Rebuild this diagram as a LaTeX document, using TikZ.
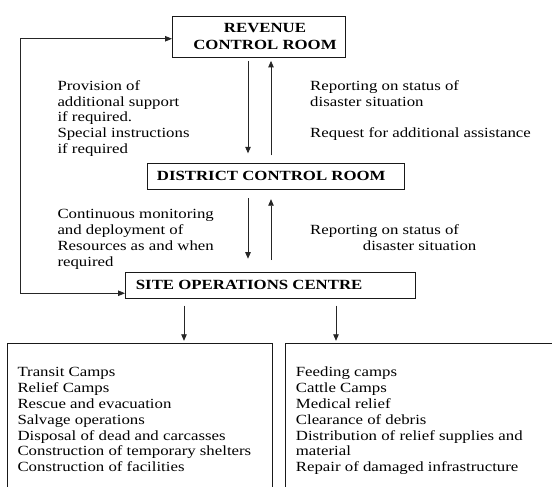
\documentclass[tikz,border=0pt]{standalone}
\usepackage{fontspec}
\setmainfont{Liberation Serif}[FakeStretch=1.2]
\usetikzlibrary{arrows.meta,calc}

\begin{document}
\begin{tikzpicture}[x=1pt,y=-1pt,
  box/.style={draw=black!90, line width=0.9pt, inner sep=0pt, anchor=north west},
  % multi-line labels are placed by the baseline of their last line
  lbl/.style={inner sep=0pt, anchor=base west, align=left, text=black,
              font=\fontsize{14}{15.6}\selectfont},
  head/.style={inner sep=0pt, anchor=base west, text=black,
               font=\fontsize{14}{16.6}\selectfont\bfseries},
  arr/.style={draw=black!85, line width=0.8pt, -{Triangle[length=6.5pt,width=5.5pt]}},
  fbarr/.style={draw=black!85, line width=0.8pt,
                {Triangle[length=7pt,width=5.5pt]}-{Triangle[length=7pt,width=5.5pt]}},
]
\useasboundingbox (0,0) rectangle (552,487);
\clip (0,0) rectangle (552,487);

% control rooms and operations centre
\node[box, minimum width=173pt, minimum height=41pt]   (rev)  at (172,16)    {};
\node[box, minimum width=257pt, minimum height=26pt]   (dist) at (146.5,163.3) {};
\node[box, minimum width=290pt, minimum height=26.6pt] (site) at (125,271.7) {};
% relief activity panels
\node[box, minimum width=265.3pt, minimum height=160pt] (relief1) at (6.7,343.3) {};
\node[box, minimum width=280pt, minimum height=160pt]   (relief2) at (285,343.3) {};

% box titles
\node[head, anchor=base] (revt1) at (265,32.7) {REVENUE};
\node[head, anchor=base] (revt2) at (265,49.3) {CONTROL ROOM};
\node[head] (distt) at (156.7,180) {DISTRICT CONTROL ROOM};
\node[head] (sitet) at (135.7,289.3) {SITE OPERATIONS CENTRE};

% flow annotations
\node[lbl] (down1) at (57.3,153.1) {Provision of\\additional support\\if required.\\Special instructions\\if required};
\node[lbl] (up1) at (310,137.5) {Reporting on status of\\disaster situation\\[15.6pt]Request for additional assistance};
\node[lbl, font=\fontsize{14}{16}\selectfont] (down2) at (57.3,266.5)
  {Continuous monitoring\\and deployment of\\Resources as and when\\required};
\node[lbl, font=\fontsize{14}{16}\selectfont] (up2) at (310,250.5)
  {Reporting on status of\\\hspace*{52.7pt}disaster situation};

% activity lists
\node[lbl, font=\fontsize{14}{15.83}\selectfont] (list1) at (17.3,471.7)
  {Transit Camps\\Relief Camps\\Rescue and evacuation\\Salvage operations\\Disposal of dead and carcasses\\Construction of temporary shelters\\Construction of facilities};
\node[lbl, font=\fontsize{14}{15.83}\selectfont] (list2) at (295.7,471.7)
  {Feeding camps\\Cattle Camps\\Medical relief\\Clearance of debris\\Distribution of relief supplies and\\material\\Repair of damaged infrastructure};

% connector columns
\coordinate (ca) at (248,0);
\coordinate (cb) at (271,0);
\coordinate (cc) at (184,0);
\coordinate (cd) at (336,0);
\coordinate (fb) at (20.7,0);

\draw[arr] ($(rev.south -| ca)+(0,3)$) -- ($(dist.north -| ca)+(0,-10)$);
\draw[arr] ($(dist.north -| cb)+(0,-8)$) -- ($(rev.south -| cb)+(0,3)$);
\draw[arr] ($(dist.south -| ca)+(0,8)$) -- ($(site.north -| ca)+(0,-13)$);
\draw[arr] ($(site.north -| cb)+(0,-11.5)$) -- ($(dist.south -| cb)+(0,9)$);
\draw[arr] ($(site.south -| cc)+(0,6.5)$) -- ($(relief1.north -| cc)+(0,-2.5)$);
\draw[arr] ($(site.south -| cd)+(0,6.5)$) -- ($(relief2.north -| cd)+(0,-2.5)$);

% direct link between site centre and revenue control room
\coordinate (revin) at ($(rev.west)+(0,1.8)$);
\coordinate (sitein) at ($(site.west)+(0,7.8)$);
\draw[fbarr] (sitein) -- (fb |- sitein) -- (fb |- revin) -- (revin);
\end{tikzpicture}
\end{document}
